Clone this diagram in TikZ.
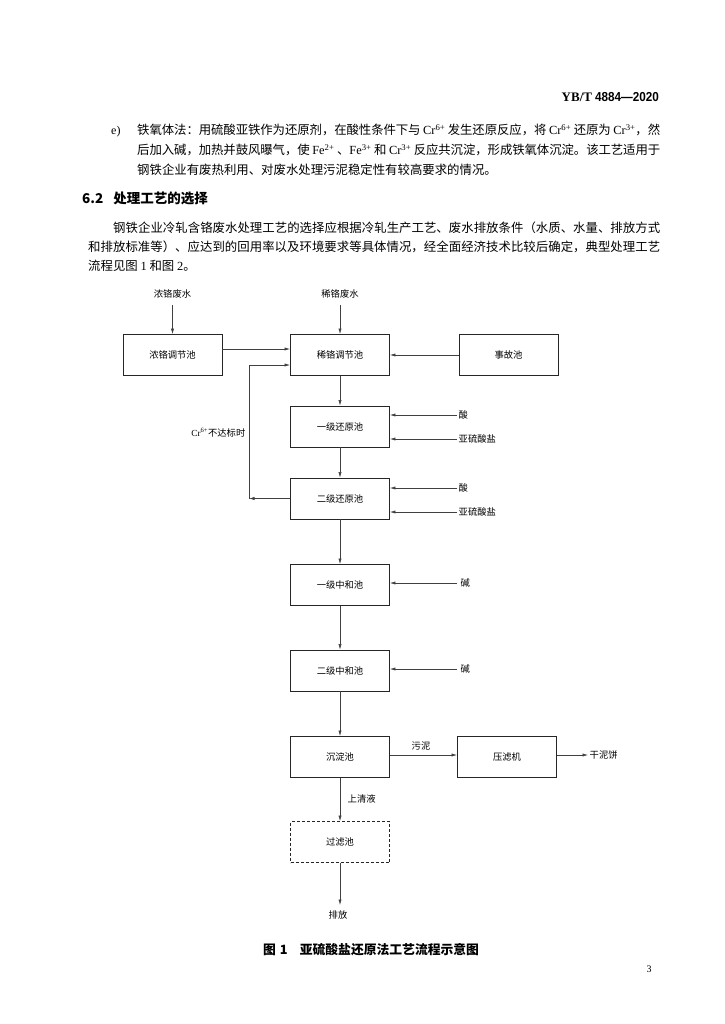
\documentclass[tikz,border=0pt]{standalone}
\usepackage{fontspec}
\setmainfont{Noto Sans CJK SC}
\newfontfamily\lat{Liberation Serif}
\newfontfamily\hdfont{Liberation Sans}
\usetikzlibrary{arrows.meta}
\newcommand\chem[2]{{\lat #1\textsuperscript{#2}}}
\tikzset{
  pbox/.style={draw=black!85, line width=0.9pt, minimum width=99pt, minimum height=41pt, inner sep=0pt, font=\fontsize{9.3pt}{11pt}\selectfont},
  lbl/.style={inner sep=1.5pt, font=\fontsize{9.3pt}{11pt}\selectfont},
  arr/.style={draw=black!75, line width=0.55pt, -{Latex[length=5.5pt,width=3.2pt]}},
  ptext/.style={anchor=base west, inner sep=0pt},
}
\begin{document}
\begin{tikzpicture}[x=1pt,y=-1pt]
\useasboundingbox[fill=white] (0,0) rectangle (724,1024);

% header
\node[anchor=base east, inner sep=0pt, font=\bfseries\fontsize{13pt}{15pt}\selectfont] (hdr) at (659,102) {{\lat YB/T}~{\hdfont\scalebox{0.9}[1]{4884—2020}}};

% item e)
\node[ptext, font=\lat\fontsize{12pt}{14pt}\selectfont] (ee) at (111,134.8) {e)};
\node[ptext] (pe) at (137,134.8) {\parbox[t]{523pt}{\fontsize{12.4pt}{20pt}\selectfont
\XeTeXlinebreaklocale "zh"\XeTeXlinebreakskip=0pt plus 4pt minus 0.4pt\XeTeXlinebreakpenalty=10000\relax\parindent=0pt
铁氧体法：用硫酸亚铁作为还原剂，在酸性条件下与~\chem{Cr}{6+}~发生还原反应，将~\chem{Cr}{6+}~还原为~\chem{Cr}{3+}，然\linebreak
后加入碱，加热并鼓风曝气，使~\chem{Fe}{2+}~、\chem{Fe}{3+}~和~\chem{Cr}{3+}~反应共沉淀，形成铁氧体沉淀。该工艺适用于\linebreak
钢铁企业有废热利用、对废水处理污泥稳定性有较高要求的情况。}};

% heading
\node[ptext, font=\bfseries\fontsize{13.5pt}{15pt}\selectfont] (h62) at (82,203.5) {6.2\hspace{10pt}处理工艺的选择};

% paragraph
\node[ptext] (p2) at (88,233) {\parbox[t]{572pt}{\fontsize{12.4pt}{19pt}\selectfont
\XeTeXlinebreaklocale "zh"\XeTeXlinebreakskip=0pt plus 4pt minus 0.4pt\XeTeXlinebreakpenalty=10000\relax\parindent=0pt
\hspace*{25pt}钢铁企业冷轧含铬废水处理工艺的选择应根据冷轧生产工艺、废水排放条件（水质、水量、排放方式\linebreak
和排放标准等）、应达到的回用率以及环境要求等具体情况，经全面经济技术比较后确定，典型处理工艺\linebreak
流程见图~{\lat 1}~和图~{\lat 2}。}};

% diagram
\node[lbl] (nw) at (172.5,294) {浓铬废水};
\node[pbox] (nt) at (172.5,355) {浓铬调节池};
\node[lbl] (xw) at (340,294) {稀铬废水};
\node[pbox] (xt) at (340,355) {稀铬调节池};
\node[pbox] (sg) at (508.5,355) {事故池};
\node[pbox] (y1) at (340,426.5) {一级还原池};
\node[pbox] (y2) at (340,498.5) {二级还原池};
\node[pbox] (z1) at (340,585) {一级中和池};
\node[pbox] (z2) at (340,670.5) {二级中和池};
\node[pbox] (cd) at (340,757) {沉淀池};
\node[pbox] (yl) at (507,757) {压滤机};
\node[pbox, dash pattern=on 3pt off 2pt] (gl) at (340,842) {过滤池};
\node[lbl] (pf) at (338,915) {排放};

\node[lbl, anchor=west] (s1) at (457,415) {酸};
\node[lbl, anchor=west] (b1) at (457,439) {亚硫酸盐};
\node[lbl, anchor=west] (s2) at (457,488) {酸};
\node[lbl, anchor=west] (b2) at (457,512) {亚硫酸盐};
\node[lbl, anchor=west] (j1) at (459,583) {碱};
\node[lbl, anchor=west] (j2) at (459,669) {碱};
\node[lbl, anchor=west] (gnb) at (588,755) {干泥饼};
\node[lbl] (wn) at (421,746) {污泥};
\node[lbl, anchor=west] (sqy) at (346,799) {上清液};
\node[lbl, anchor=east] (crl) at (247,433) {\chem{Cr}{6+}不达标时};

\draw[arr, shorten <=5pt] (nw) -- (nt);
\draw[arr, shorten <=5pt] (xw) -- (xt);
\draw[arr] ([yshift=6pt]nt.east) -- ([yshift=6pt]xt.west);
\draw[arr] (sg) -- (xt);
\draw[arr] (xt) -- (y1);
\draw[arr] (y1) -- (y2);
\draw[arr] (y2) -- (z1);
\draw[arr] (z1) -- (z2);
\draw[arr] (z2) -- (cd);
\draw[arr] (cd) -- (gl);
\draw[arr, shorten >=4pt] (gl) -- (gl |- pf.north);

\coordinate (rl) at (249,498.5);
\draw[arr] (y2.west) -- (rl);
\draw[arr] (rl) |- ([yshift=-10pt]xt.west);

\draw[arr] (s1.west) -- (s1.west -| y1.east);
\draw[arr] (b1.west) -- (b1.west -| y1.east);
\draw[arr] (s2.west) -- (s2.west -| y2.east);
\draw[arr] (b2.west) -- (b2.west -| y2.east);
\draw[arr] ([xshift=-2pt]j1.west) -- (j1.west -| z1.east);
\draw[arr] ([xshift=-2pt]j2.west) -- (j2.west -| z2.east);
\draw[arr] ([yshift=2pt]cd.east) -- ([yshift=2pt]yl.west);
\draw[arr] (yl.east |- gnb) -- (gnb.west);

% caption
\node[ptext, font=\bfseries\fontsize{12.8pt}{14pt}\selectfont] (cap) at (263,954.5) {图\hspace{4pt}1\hspace{12pt}亚硫酸盐还原法工艺流程示意图};
\node[font=\lat\fontsize{10pt}{12pt}\selectfont] (pg) at (649,969) {3};
\end{tikzpicture}
\end{document}
